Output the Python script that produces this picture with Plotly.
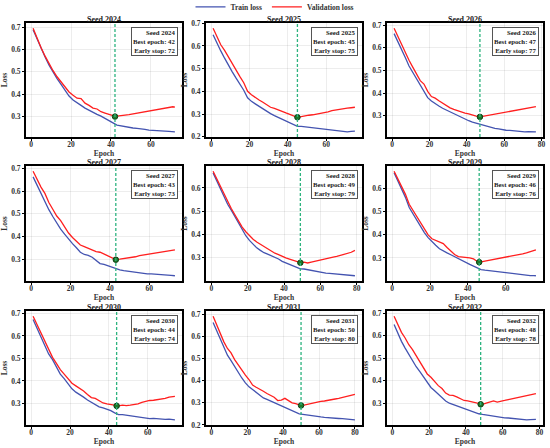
import plotly.graph_objects as go

# seeds and early stopping info
seeds = [2024, 2025, 2026, 2027, 2028, 2029, 2030, 2031, 2032]
best_epoch = [42, 45, 47, 43, 49, 46, 44, 50, 48]
early_stop = [72, 75, 77, 73, 79, 76, 74, 80, 78]
best_val = [0.300, 0.286, 0.295, 0.297, 0.279, 0.282, 0.289, 0.288, 0.295]

# losses read every 2 epochs (1, 3, 5, ... and the early stop epoch)
train_2024 = [.688, .645, .605, .566, .530, .498, .470, .444, .418, .392,
              .374, .360, .350, .338, .328, .320, .310, .302, .293, .284,
              .272, .262, .258, .256, .252, .249, .247, .246, .243, .240,
              .238, .236, .236, .235, .234, .233, .232]
val_2024 = [.695, .650, .608, .570, .535, .505, .478, .455, .430, .410,
            .395, .382, .380, .360, .350, .338, .334, .322, .316, .310,
            .304, .302, .306, .307, .309, .312, .315, .318, .322, .325,
            .328, .331, .334, .338, .340, .344, .342]

train_2025 = [.649, .612, .578, .546, .514, .486, .458, .432, .405, .372,
              .356, .345, .334, .322, .312, .302, .293, .285, .278, .268,
              .262, .254, .246, .246, .244, .242, .240, .238, .235, .232,
              .230, .229, .226, .224, .223, .222, .224, .225]
val_2025 = [.678, .640, .605, .580, .550, .522, .492, .465, .438, .400,
            .385, .372, .362, .352, .342, .330, .325, .320, .312, .305,
            .300, .292, .286, .290, .292, .295, .297, .300, .302, .305,
            .310, .315, .318, .322, .326, .326, .328, .330]

train_2026 = [.663, .625, .590, .557, .520, .493, .466, .437, .410, .380,
              .365, .352, .343, .333, .325, .318, .309, .300, .292, .284,
              .278, .272, .267, .263, .258, .254, .247, .244, .242, .238,
              .236, .235, .233, .230, .229, .229, .230, .229, .229]
val_2026 = [.687, .650, .612, .580, .545, .515, .482, .455, .440, .408,
            .385, .378, .366, .355, .346, .335, .328, .322, .318, .312,
            .308, .302, .298, .295, .298, .300, .303, .306, .308, .312,
            .315, .318, .322, .325, .328, .330, .333, .336, .340]

train_2027 = [.663, .625, .588, .553, .518, .488, .458, .432, .410, .388,
              .368, .350, .330, .320, .316, .308, .296, .280, .276, .270,
              .262, .255, .252, .249, .246, .243, .240, .238, .236, .234,
              .234, .233, .234, .232, .230, .228, .226]
val_2027 = [.688, .650, .618, .590, .550, .520, .490, .470, .440, .415,
            .395, .380, .362, .355, .348, .340, .333, .330, .322, .316,
            .308, .298, .300, .302, .304, .307, .310, .315, .318, .320,
            .324, .326, .328, .332, .335, .338, .340]

train_2028 = [.665, .632, .598, .566, .530, .505, .478, .448, .420, .395,
              .375, .358, .343, .332, .322, .316, .310, .303, .295, .285,
              .279, .272, .268, .260, .253, .252, .249, .245, .240, .238,
              .236, .234, .233, .232, .231, .229, .227, .226, .224, .223]
val_2028 = [.672, .640, .605, .575, .538, .512, .485, .458, .432, .412,
            .395, .380, .368, .358, .348, .338, .330, .320, .314, .306,
            .300, .295, .290, .286, .280, .282, .278, .282, .286, .290,
            .293, .296, .300, .303, .306, .310, .314, .318, .324, .332]

train_2029 = [.668, .632, .598, .562, .518, .490, .462, .432, .410, .388,
              .370, .355, .340, .330, .322, .314, .305, .296, .288, .280,
              .272, .265, .256, .250, .247, .245, .242, .240, .238, .235,
              .233, .232, .230, .229, .227, .225, .224, .224, .223]
val_2029 = [.675, .640, .605, .575, .532, .505, .478, .457, .430, .400,
            .383, .375, .368, .362, .345, .330, .315, .306, .305, .302,
            .300, .296, .285, .283, .286, .288, .292, .295, .298, .302,
            .305, .308, .312, .315, .318, .322, .326, .330, .335]

train_2030 = [.673, .635, .600, .562, .520, .495, .465, .430, .410, .385,
              .365, .350, .340, .328, .315, .305, .295, .285, .280, .275,
              .268, .258, .250, .250, .247, .244, .241, .238, .236, .233,
              .232, .233, .231, .229, .229, .230, .228, .227]
val_2030 = [.688, .650, .614, .575, .535, .505, .478, .450, .430, .408,
            .390, .378, .368, .355, .340, .326, .322, .310, .302, .298,
            .296, .293, .289, .292, .290, .292, .295, .298, .305, .310,
            .313, .314, .316, .318, .322, .328, .332, .331]

train_2031 = [.662, .625, .590, .555, .515, .490, .462, .438, .412, .390,
              .372, .360, .348, .335, .322, .315, .308, .302, .294, .285,
              .278, .272, .265, .258, .250, .248, .245, .243, .241, .239,
              .236, .234, .232, .231, .230, .229, .228, .227, .226, .224, .223]
val_2031 = [.691, .650, .610, .575, .545, .525, .495, .470, .445, .425,
            .405, .380, .370, .362, .352, .342, .332, .325, .310, .312,
            .320, .308, .300, .296, .290, .288, .292, .295, .298, .302,
            .306, .308, .310, .313, .317, .320, .324, .328, .332, .336, .338]

train_2032 = [.650, .612, .575, .545, .515, .490, .462, .440, .415, .390,
              .370, .355, .340, .325, .310, .300, .294, .288, .283, .276,
              .268, .264, .258, .253, .250, .247, .245, .243, .240, .236,
              .235, .234, .232, .230, .229, .228, .226, .227, .228, .228]
val_2032 = [.687, .650, .615, .590, .560, .538, .510, .482, .452, .430,
            .415, .395, .378, .365, .345, .336, .335, .328, .320, .312,
            .310, .306, .303, .298, .295, .300, .306, .310, .305, .310,
            .312, .316, .320, .324, .328, .330, .334, .338, .342, .343]

train_all = [train_2024, train_2025, train_2026, train_2027, train_2028,
             train_2029, train_2030, train_2031, train_2032]
val_all = [val_2024, val_2025, val_2026, val_2027, val_2028,
           val_2029, val_2030, val_2031, val_2032]

W, H = 550, 448
col_px = [(26, 182), (206, 362), (387, 543)]
row_px = [(23, 137), (166, 281), (311, 425)]

BLUE = "#4353b0"
RED = "#ff1f1f"
FONT = "Liberation Serif"

fig = go.Figure()
annotations = []
shapes = []

for i, seed in enumerate(seeds):
    r, c = divmod(i, 3)
    n = "" if i == 0 else str(i + 1)
    stop = early_stop[i]
    epochs = list(range(1, stop, 2)) + [stop]

    fig.add_trace(go.Scatter(
        x=epochs, y=train_all[i], mode="lines", name="Train loss",
        line=dict(color=BLUE, width=1.3), showlegend=(i == 0),
        xaxis="x" + n, yaxis="y" + n))
    fig.add_trace(go.Scatter(
        x=epochs, y=val_all[i], mode="lines", name="Validation loss",
        line=dict(color=RED, width=1.3), showlegend=(i == 0),
        xaxis="x" + n, yaxis="y" + n))
    fig.add_trace(go.Scatter(
        x=[best_epoch[i]], y=[best_val[i]], mode="markers", showlegend=False,
        marker=dict(size=5.5, color="#1e7a2a", line=dict(color="#0b3d12", width=1)),
        xaxis="x" + n, yaxis="y" + n))

    # matplotlib-like 5% margins
    lo = min(min(train_all[i]), min(val_all[i]))
    hi = max(max(train_all[i]), max(val_all[i]))
    ypad = 0.05 * (hi - lo)
    xpad = 0.05 * (stop - 1)

    x0, x1 = col_px[c]
    y0, y1 = row_px[r]
    axis_common = dict(
        showline=True, mirror=True, linecolor="black", linewidth=2,
        showgrid=True, gridcolor="rgba(0,0,0,0.07)", gridwidth=1,
        zeroline=False, ticks="outside", ticklen=2, tickcolor="black",
        automargin=False,
        tickfont=dict(family=FONT, size=7.5, color="#333", weight="bold"),
    )
    fig.layout["xaxis" + n] = dict(
        axis_common, domain=[x0 / W, x1 / W], anchor="y" + n,
        range=[1 - xpad, stop + xpad], dtick=20, tick0=0, ticklabelstandoff=-3,
        title=dict(text="Epoch", standoff=0,
                   font=dict(family=FONT, size=7.5, color="#333", weight="bold")))
    fig.layout["yaxis" + n] = dict(
        axis_common, domain=[1 - y1 / H, 1 - y0 / H], anchor="x" + n,
        range=[lo - ypad, hi + ypad], dtick=0.1, tick0=0, tickformat=".1f",
        title=dict(text="Loss", standoff=3,
                   font=dict(family=FONT, size=7.5, color="#333", weight="bold")))

    annotations.append(dict(
        text="Seed %d" % seed, xref="x%s domain" % n, yref="y%s domain" % n,
        x=0.5, y=1, xanchor="center", yanchor="bottom", yshift=-3, showarrow=False,
        font=dict(family=FONT, size=8, color="#222", weight="bold")))
    annotations.append(dict(
        text="Seed %d<br>Best epoch: %d<br>Early stop: %d" % (seed, best_epoch[i], stop),
        xref="x%s domain" % n, yref="y%s domain" % n, x=0.975, y=0.965,
        xanchor="right", yanchor="top", align="right", showarrow=False,
        bgcolor="white", bordercolor="#555", borderwidth=1, borderpad=1,
        font=dict(family=FONT, size=6.8, color="#222", weight="bold")))
    shapes.append(dict(
        type="line", xref="x" + n, yref="y%s domain" % n,
        x0=best_epoch[i], x1=best_epoch[i], y0=0, y1=1,
        line=dict(color="#2db37f", width=1.3, dash="3px,2px")))

fig.update_layout(
    width=W, height=H,
    margin=dict(l=0, r=0, t=0, b=0, autoexpand=False),
    plot_bgcolor="white", paper_bgcolor="white",
    annotations=annotations, shapes=shapes,
    legend=dict(orientation="h", x=0.5, xanchor="center",
                y=1.017, yanchor="top",
                font=dict(family=FONT, size=7.5, color="#333", weight="bold"),
                bgcolor="rgba(0,0,0,0)", itemwidth=30, tracegroupgap=0),
)

# drop the default page margin so the figure sits at the window corner
fig.write_html("out.html", config={"displayModeBar": False},
               post_script="document.body.style.margin = '0';")
